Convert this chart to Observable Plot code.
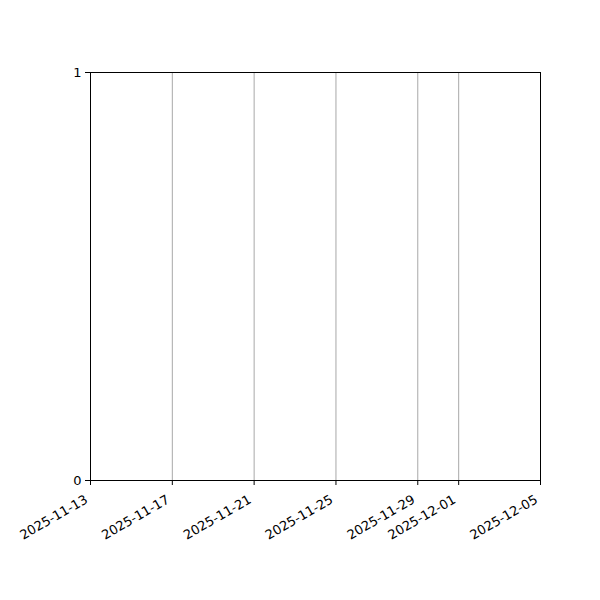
<!DOCTYPE html>
<html>
<head>
<meta charset="utf-8">
<script src="https://cdn.jsdelivr.net/npm/d3@7"></script>
<script src="https://cdn.jsdelivr.net/npm/@observablehq/plot@0.6"></script>
<style>
  html, body { margin: 0; padding: 0; background: #fff; }
  #chart { width: 600px; height: 600px; }
</style>
</head>
<body>
<div id="chart"></div>
<script>
const xDomain = ["2025-11-13", "2025-12-05"];
const xTickLabels = ["2025-11-13", "2025-11-17", "2025-11-21", "2025-11-25", "2025-11-29", "2025-12-01", "2025-12-05"];
const yDomain = [0, 1];
const yTickValues = [0, 1];

const parse = d3.utcParse("%Y-%m-%d");
const xTicks = xTickLabels.map(parse);
const gridTicks = xTicks.slice(1, -1);

const chart = Plot.plot({
  width: 600,
  height: 600,
  marginLeft: 90,
  marginRight: 60,
  marginTop: 72,
  marginBottom: 120,
  style: { fontFamily: "DejaVu Sans", fontSize: "13px", color: "#000", background: "#fff" },
  x: { type: "utc", domain: xDomain.map(parse) },
  y: { domain: yDomain },
  marks: [
    Plot.ruleX(gridTicks, { stroke: "#a8a8a8", strokeWidth: 1 }),
    Plot.frame({ stroke: "#000", strokeWidth: 1 }),
    Plot.axisX({
      ticks: xTicks,
      tickFormat: null,
      text: null,
      tickSize: 5,
      stroke: "#000",
      label: null
    }),
    Plot.text(xTicks, {
      x: (d) => d,
      frameAnchor: "bottom",
      text: d3.utcFormat("%Y-%m-%d"),
      rotate: -30,
      textAnchor: "end",
      lineAnchor: "middle",
      dx: -4,
      dy: 18,
      fill: "#000",
      fontSize: 13
    }),
    Plot.axisY({
      ticks: yTickValues,
      tickFormat: d3.format("d"),
      tickSize: 5,
      tickPadding: 4,
      stroke: "#000",
      fill: "#000",
      fontSize: 13,
      label: null
    })
  ]
});
document.getElementById("chart").appendChild(chart);
</script>
</body>
</html>
